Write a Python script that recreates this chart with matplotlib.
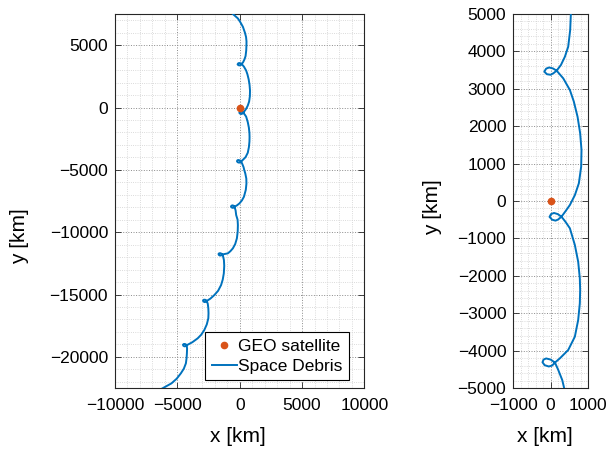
import matplotlib
matplotlib.use('Agg')
import matplotlib.pyplot as plt
from matplotlib.ticker import MultipleLocator

plt.rcParams['font.family'] = ['Liberation Sans', 'DejaVu Sans']
plt.rcParams['axes.unicode_minus'] = True

# Relative position of the debris with respect to the GEO satellite (km)
debris_x_km = [
    -548, -350, -145, 60, 258, 420, 510, 545, 541, 523, 470, 381, 275,
    160, 80, 0, -100, -170, -120, -40, 60, 160,
    337, 515, 620, 720, 790, 826, 817, 755, 650, 515, 400,
    290, 200, 130, 40, -30, 10, 90, 190, 290,
    400, 515, 648, 737, 781, 790, 781, 737, 648, 470, 248,
    115, 40, -50, -160, -218, -190, -120, 0, 115,
    204, 310, 363, 450, 530, 540, 490, 339, 180, -16, -220,
    -420, -480, -570, -660, -700, -650, -560, -480, -420,
    -330, -282, -170, -145, -160, -226, -360, -548, -750, -952,
    -1400, -1480, -1580, -1670, -1700, -1640, -1540, -1460, -1400,
    -1330, -1266, -1240, -1274, -1360, -1492, -1730, -2032, -2350,
    -2640, -2720, -2820, -2910, -2940, -2880, -2780, -2700, -2640,
    -2560, -2516, -2500, -2516, -2640, -2839, -3090, -3371, -3800,
    -4250, -4330, -4430, -4520, -4550, -4490, -4390, -4310, -4250,
    -4220, -4234, -4260, -4315, -4480, -4718, -5050, -5468, -6331,
]
debris_y_km = [
    7500, 7330, 7145, 6830, 6471, 6000, 5650, 5300, 5000, 4572, 4126, 3858, 3636,
    3485, 3420, 3375, 3390, 3460, 3540, 3570, 3545, 3485,
    3280, 2968, 2660, 2254, 1810, 1364, 917, 473, 160, -107, -270,
    -420, -495, -525, -500, -425, -350, -320, -350, -420,
    -560, -730, -1176, -1623, -2067, -2380, -2736, -3182, -3628, -3984, -4206,
    -4320, -4400, -4425, -4390, -4313, -4240, -4210, -4240, -4320,
    -4519, -4786, -5008, -5300, -5700, -6100, -6600, -7161, -7450, -7690, -7850,
    -7960, -8030, -8050, -8010, -7940, -7870, -7850, -7890, -7960,
    -8250, -8629, -9000, -9431, -9950, -10497, -10950, -11299, -11530, -11700,
    -11790, -11860, -11880, -11830, -11750, -11690, -11690, -11730, -11790,
    -11950, -12237, -12700, -13304, -13800, -14242, -14700, -15044, -15330,
    -15520, -15590, -15610, -15560, -15480, -15420, -15420, -15460, -15520,
    -15750, -16110, -16500, -16912, -17400, -17851, -18230, -18517, -18830,
    -19070, -19140, -19160, -19110, -19030, -18970, -18970, -19010, -19070,
    -19350, -19720, -20100, -20521, -20950, -21323, -21750, -22125, -22606,
]
geo_x_km = [0]
geo_y_km = [0]

left_xlim = [-10000, 10000]
left_ylim = [-22500, 7500]
left_xticks = [-10000, -5000, 0, 5000, 10000]
left_yticks = [-20000, -15000, -10000, -5000, 0, 5000]
right_xlim = [-1000, 1000]
right_ylim = [-5000, 5000]
right_xticks = [-1000, 0, 1000]
right_yticks = [-5000, -4000, -3000, -2000, -1000, 0, 1000, 2000, 3000, 4000, 5000]

W, H = 608, 451
AX_BOTTOM, AX_TOP = 388, 14
AX_H = AX_BOTTOM - AX_TOP
fig = plt.figure(figsize=(W / 100, H / 100), dpi=100)
ax1 = fig.add_axes([115 / W, (H - AX_BOTTOM) / H, 249.4 / W, AX_H / H])
ax2 = fig.add_axes([513.3 / W, (H - AX_BOTTOM) / H, 74.7 / W, AX_H / H])

tc = '#262626'
setups = [
    # axes, xlim, ylim, xticks, yticks, minor step, xlabel x px, ylabel (x px, y px)
    (ax1, left_xlim, left_ylim, left_xticks, left_yticks, 1000, 238, (20, 236)),
    (ax2, right_xlim, right_ylim, right_xticks, right_yticks, 200, 545, (433, 207)),
]
for ax, xl, yl, xt, yt, mstep, xlab_px, ylab_px in setups:
    ax.plot(geo_x_km, geo_y_km, '.', color='#D95319', markersize=9,
            label='GEO satellite', zorder=4)
    ax.plot(debris_x_km, debris_y_km, '-', color='#0072BD', lw=1.4,
            label='Space Debris', zorder=3)
    ax.set_xlim(xl)
    ax.set_ylim(yl)
    ax.set_xticks(xt)
    ax.set_yticks(yt)
    ax.xaxis.set_minor_locator(MultipleLocator(mstep))
    ax.yaxis.set_minor_locator(MultipleLocator(mstep))
    ax.set_axisbelow(True)
    ax.grid(which='major', linestyle=':', color='#8a8a8a', lw=0.7)
    ax.grid(which='minor', linestyle=':', color='#cfcfcf', lw=0.6)
    ax.tick_params(which='major', direction='in', top=True, right=True,
                   length=4, width=0.6, labelsize=12.5, colors=tc,
                   labelcolor='black')
    ax.tick_params(axis='x', which='major', pad=7)
    ax.tick_params(axis='y', which='major', pad=5)
    ax.tick_params(which='minor', length=0, top=True, right=True)
    for s in ax.spines.values():
        s.set_linewidth(0.8)
        s.set_color(tc)
    pos = ax.get_position()
    ax_left_px = pos.x0 * W
    ax_w_px = pos.width * W
    ax.set_xlabel('x [km]', fontsize=15, va='center')
    ax.set_ylabel('y [km]', fontsize=15, va='center')
    ax.xaxis.set_label_coords((xlab_px - ax_left_px) / ax_w_px,
                              -(436 - AX_BOTTOM) / AX_H)
    ax.yaxis.set_label_coords((ylab_px[0] - ax_left_px) / ax_w_px,
                              (AX_BOTTOM - ylab_px[1]) / AX_H)

leg = ax1.legend(loc='lower right', bbox_to_anchor=(0.938, 0.021),
                 borderaxespad=0, fancybox=False, edgecolor='black',
                 framealpha=1, fontsize=12.5, handlelength=1.45,
                 handletextpad=0.1, borderpad=0.35, labelspacing=0.3)
leg.get_frame().set_linewidth(0.8)

fig.savefig('out.png', dpi=100, facecolor='white')
